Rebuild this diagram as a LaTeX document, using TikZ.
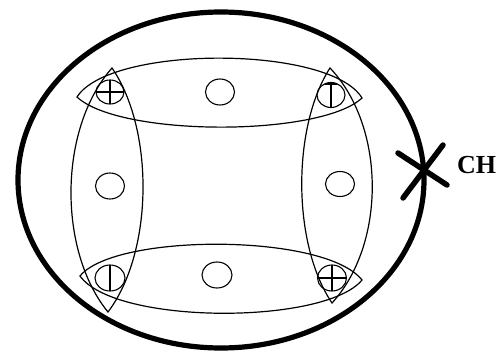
\documentclass[tikz,border=0pt]{standalone}
\usepackage{fontspec}
\setmainfont{Liberation Serif}
\begin{document}
\begin{tikzpicture}[x=1pt,y=-1pt,
  outerline/.style={line width=5.2pt},
  lens/.style={line width=1.2pt},
  ring/.style={line width=1.1pt},
  crossline/.style={line width=5.5pt, line cap=round}]
\useasboundingbox (0,0) rectangle (503,358);
\fill[white] (0,0) rectangle (503,358);
% outer boundary
\draw[outerline] (221,180) ellipse [x radius=203, y radius=168];
% lenses
\draw[lens] (77,97) .. controls (110,45) and (330,45) .. (362,98)
  .. controls (320,137) and (120,137) .. cycle;
\draw[lens] (80,276) .. controls (115,233) and (325,233) .. (362,280)
  .. controls (325,325) and (115,325) .. cycle;
\draw[lens] (112,68) .. controls (58,129) and (58,251) .. (108,312)
  .. controls (154,251) and (154,129) .. cycle;
\draw[lens] (330,68) .. controls (292,127) and (292,244) .. (332,303)
  .. controls (386,244) and (386,127) .. cycle;
% plain rings
\draw[ring] (220,92) ellipse [x radius=14.5, y radius=13];
\draw[ring] (110,186) ellipse [x radius=14.5, y radius=13];
\draw[ring] (340,184) ellipse [x radius=14.5, y radius=12.5];
\draw[ring] (217,275) ellipse [x radius=15, y radius=13];
% top-left plus ring
\draw[ring] (110,92) ellipse [x radius=14, y radius=12];
\draw[ring] (96,92) -- (124,92) (110,80) -- (110,104);
% top-right bar ring
\draw[ring] (331,95) ellipse [x radius=14, y radius=12.5];
\draw[ring] (331,82.5) -- (331,107.5) (325,84) -- (337,84);
% bottom-left bar ring
\draw[ring] (110,278) ellipse [x radius=15, y radius=13];
\draw[ring] (110,265) -- (110,291);
% bottom-right plus ring
\draw[ring] (332,278) ellipse [x radius=14.5, y radius=13];
\draw[ring] (317.5,278) -- (346.5,278) (332,265) -- (332,291);
% cross mark
\draw[crossline] (398,153) -- (447,185);
\draw[crossline] (443,145) -- (403,198);
\node[anchor=base west, inner sep=0pt, font=\fontsize{26}{26}\selectfont\bfseries] (ch) at (457,174) {CH};
\end{tikzpicture}
\end{document}
